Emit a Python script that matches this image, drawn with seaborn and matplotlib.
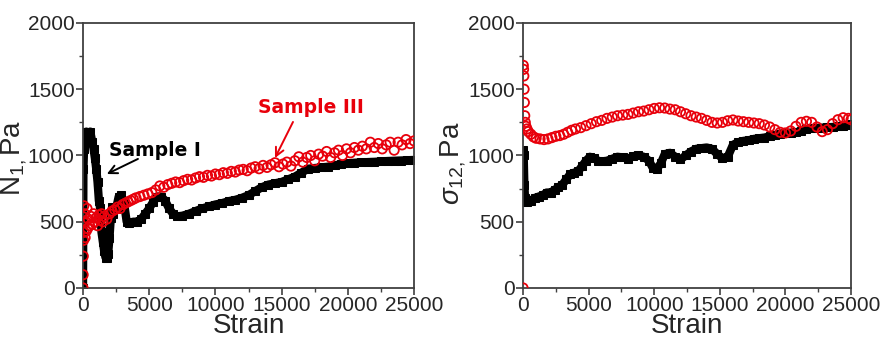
"""Recreate two-panel N1 / sigma12 vs strain chart (Sample I vs Sample III)."""

import matplotlib
matplotlib.use("Agg")
import matplotlib.pyplot as plt
from matplotlib.ticker import MultipleLocator
import seaborn as sns

# --- data ---
n1_black_x = [0, 30, 80, 150, 250, 400, 550, 700, 800, 900, 1000, 1100, 1200, 1300, 1400,
              1500, 1600, 1700, 1800, 1900, 2000, 2100, 2200, 2300, 2500, 2700, 2900, 3100,
              3300, 3500, 3800, 4100, 4400, 4700, 5000, 5300, 5600, 5900, 6200, 6500, 6800,
              7100, 7500, 8000, 8500, 9000, 9500, 10000, 10500, 11000, 11500, 12000, 12500,
              13000, 13500, 14000, 14500, 15000, 15500, 16000, 16500, 17000, 17500, 18000,
              18500, 19000, 19500, 20000, 20500, 21000, 21500, 22000, 22500, 23000, 23500,
              24000, 24500, 25000]
n1_black_y = [0, 900, 1050, 1150, 1180, 1170, 1180, 1100, 1050, 980, 900, 800, 660, 600, 420,
              350, 280, 230, 230, 260, 380, 530, 610, 560, 600, 690, 700, 640,
              500, 490, 500, 500, 520, 560, 600, 650, 690, 690, 660, 600, 560,
              540, 545, 560, 580, 600, 615, 630, 640, 655, 665, 680, 700,
              730, 760, 780, 790, 800, 820, 840, 870, 900, 905, 910,
              915, 925, 935, 940, 945, 948, 950, 952, 955, 958, 960,
              962, 964, 966]

n1_red_x = [0, 10, 20, 40, 60, 80, 120, 160, 200, 250, 300, 350, 400, 500, 600, 700, 800,
            900, 1000, 1100, 1200, 1300, 1400, 1500, 1600, 1800, 2000, 2200, 2400, 2600,
            2800, 3000, 3200, 3400, 3600, 3800, 4000, 4300, 4600, 4900, 5200, 5500, 5800,
            6100, 6400, 6700, 7000, 7300, 7600, 7900, 8200, 8500, 8800, 9100, 9400, 9700,
            10000, 10300, 10600, 10900, 11200, 11500, 11800, 12100, 12400, 12700, 13000,
            13300, 13600, 13900, 14200, 14500, 14800, 15100, 15400, 15700, 16000, 16300,
            16600, 16900, 17200, 17500, 17800, 18100, 18400, 18700, 19000, 19300, 19600,
            19900, 20200, 20500, 20800, 21100, 21400, 21700, 22000, 22300, 22600, 22900,
            23200, 23500, 23800, 24100, 24400, 24700, 25000]
n1_red_y = [0, 100, 240, 360, 620, 420, 560, 380, 500, 430, 600, 450, 520, 470, 540, 480, 560,
            500, 530, 470, 550, 510, 560, 500, 540, 520, 560, 580, 590, 610,
            600, 630, 640, 650, 660, 670, 680, 690, 700, 710, 720, 740, 770,
            760, 780, 790, 800, 795, 810, 820, 815, 830, 840, 835, 850, 845,
            860, 855, 870, 865, 880, 875, 890, 895, 885, 905, 915,
            900, 925, 910, 930, 945, 915, 935, 950, 920, 960, 990,
            950, 985, 1000, 960, 1010, 995, 1030, 985, 1020, 1040, 1000,
            1050, 1020, 1060, 1040, 1070, 1050, 1100, 1060, 1090, 1050, 1080,
            1100, 1040, 1100, 1080, 1120, 1090, 1110]

s12_black_x = [0, 50, 100, 150, 300, 600, 900, 1200, 1500, 1800, 2100, 2400, 2700, 3000,
               3300, 3600, 3900, 4200, 4500, 4800, 5100, 5400, 5700, 6000, 6400, 6800, 7200,
               7600, 8000, 8400, 8800, 9200, 9600, 9900, 10200, 10500, 10800, 11200, 11600,
               12000, 12400, 12800, 13200, 13600, 14000, 14400, 14800, 15200, 15600, 16000,
               16400, 16800, 17200, 17600, 18000, 18400, 18800, 19200, 19600, 20000, 20400,
               20800, 21200, 21600, 22000, 22400, 22800, 23200, 23600, 24000, 24400, 24800,
               25000]
s12_black_y = [1040, 1000, 780, 680, 650, 660, 680, 690, 700, 720, 720, 740, 760, 780,
               820, 860, 870, 880, 920, 960, 990, 980, 960, 955, 960, 975, 990,
               985, 975, 995, 1000, 990, 960, 905, 900, 940, 1010, 1020, 990,
               970, 1000, 1030, 1050, 1055, 1060, 1050, 1010, 980, 990, 1080,
               1100, 1110, 1115, 1125, 1130, 1135, 1145, 1155, 1165, 1170, 1172,
               1175, 1185, 1200, 1205, 1208, 1210, 1212, 1215, 1220, 1225, 1232,
               1235]

s12_red_x = [0, 20, 40, 60, 80, 100, 130, 170, 220, 300, 400, 600, 800, 1000, 1300, 1600,
             1900, 2200, 2500, 2800, 3100, 3400, 3700, 4000, 4400, 4800, 5200, 5600, 6000,
             6400, 6800, 7200, 7600, 8000, 8400, 8800, 9200, 9600, 10000, 10400, 10800,
             11200, 11600, 12000, 12400, 12800, 13200, 13600, 14000, 14400, 14800, 15200,
             15600, 16000, 16400, 16800, 17200, 17600, 18000, 18400, 18800, 19200, 19600,
             20000, 20400, 20800, 21200, 21600, 22000, 22400, 22800, 23200, 23600, 24000,
             24400, 24800, 25000]
s12_red_y = [0, 1680, 1650, 1600, 1500, 1400, 1300, 1250, 1220, 1200, 1180, 1160, 1140, 1130,
             1125, 1120, 1125, 1135, 1145, 1150, 1160, 1175, 1190, 1200, 1210, 1225, 1240,
             1255, 1265, 1280, 1290, 1300, 1305, 1310, 1320, 1330, 1335, 1345, 1355, 1360,
             1358, 1350, 1345, 1330, 1315, 1300, 1290, 1280, 1265, 1250, 1245, 1250,
             1262, 1268, 1260, 1255, 1250, 1245, 1240, 1230, 1215, 1195, 1175,
             1170, 1185, 1220, 1250, 1258, 1250, 1215, 1180, 1195, 1240, 1270,
             1285, 1280, 1270]

start_x = [0, 0]
start_y = [0, 1000]

x_ticks = [0, 5000, 10000, 15000, 20000, 25000]
y_ticks = [0, 500, 1000, 1500, 2000]

sns.set_style("white")
plt.rcParams["font.family"] = ["Liberation Sans", "DejaVu Sans"]
plt.rcParams["mathtext.fontset"] = "custom"
plt.rcParams["mathtext.rm"] = "Liberation Sans"
plt.rcParams["mathtext.it"] = "Liberation Sans:italic"

fig = plt.figure(figsize=(8.82, 3.38), dpi=100)
ax1 = fig.add_axes([0.0941, 0.148, 0.3753, 0.784])
ax2 = fig.add_axes([0.593, 0.148, 0.3719, 0.784])

panels = [
    (ax1, n1_black_x, n1_black_y, n1_red_x, n1_red_y, r"N$_{1,}$Pa", -0.162, 0.49),
    (ax2, s12_black_x, s12_black_y, s12_red_x, s12_red_y, r"$\sigma_{12,}$Pa", -0.168, 0.47),
]

for ax, bx, by, rx, ry, ylab, lab_x, lab_y in panels:
    sns.lineplot(x=start_x, y=start_y, ax=ax, color="#1a237e", lw=1.0, sort=False)
    sns.lineplot(x=bx, y=by, ax=ax, color="black", lw=6, marker="s", markersize=6,
                 markeredgecolor="black", sort=False)
    sns.scatterplot(x=rx, y=ry, ax=ax, marker="o", s=45, facecolors="none",
                    edgecolors="#e8000b", linewidths=1.3, zorder=3)
    ax.set_xlim(0, 25000)
    ax.set_ylim(0, 2000)
    ax.set_xticks(x_ticks)
    ax.set_yticks(y_ticks)
    ax.xaxis.set_minor_locator(MultipleLocator(2500))
    ax.yaxis.set_minor_locator(MultipleLocator(250))
    ax.tick_params(which="major", direction="out", length=5, width=1.2, color="#404040",
                   labelsize=15, pad=1, bottom=True, left=True)
    ax.tick_params(which="minor", direction="out", length=3, width=1.0, color="#404040",
                   bottom=True, left=True)
    for sp in ax.spines.values():
        sp.set_color("#404040")
        sp.set_linewidth(1.3)
    ax.set_xlabel("Strain", fontsize=20, labelpad=-2)
    ax.set_ylabel(ylab, fontsize=20)
    ax.yaxis.set_label_coords(lab_x, lab_y)

# annotations: text plus a separate arrow
ax1.text(5400, 1034, "Sample I", ha="center", va="center", fontsize=13.5,
         fontweight="bold", color="black", family="DejaVu Sans")
ax1.annotate("", xy=(1800, 860), xytext=(4150, 974),
             arrowprops=dict(arrowstyle="->", color="black", lw=1.4, shrinkA=0, shrinkB=0,
                             mutation_scale=15))
ax1.text(17200, 1359, "Sample III", ha="center", va="center", fontsize=13.5,
         fontweight="bold", color="#e8000b", family="DejaVu Sans")
ax1.annotate("", xy=(14500, 981), xytext=(15860, 1253),
             arrowprops=dict(arrowstyle="->", color="#e8000b", lw=1.4, shrinkA=0, shrinkB=0,
                             mutation_scale=15))

fig.savefig("out.png", dpi=100)
